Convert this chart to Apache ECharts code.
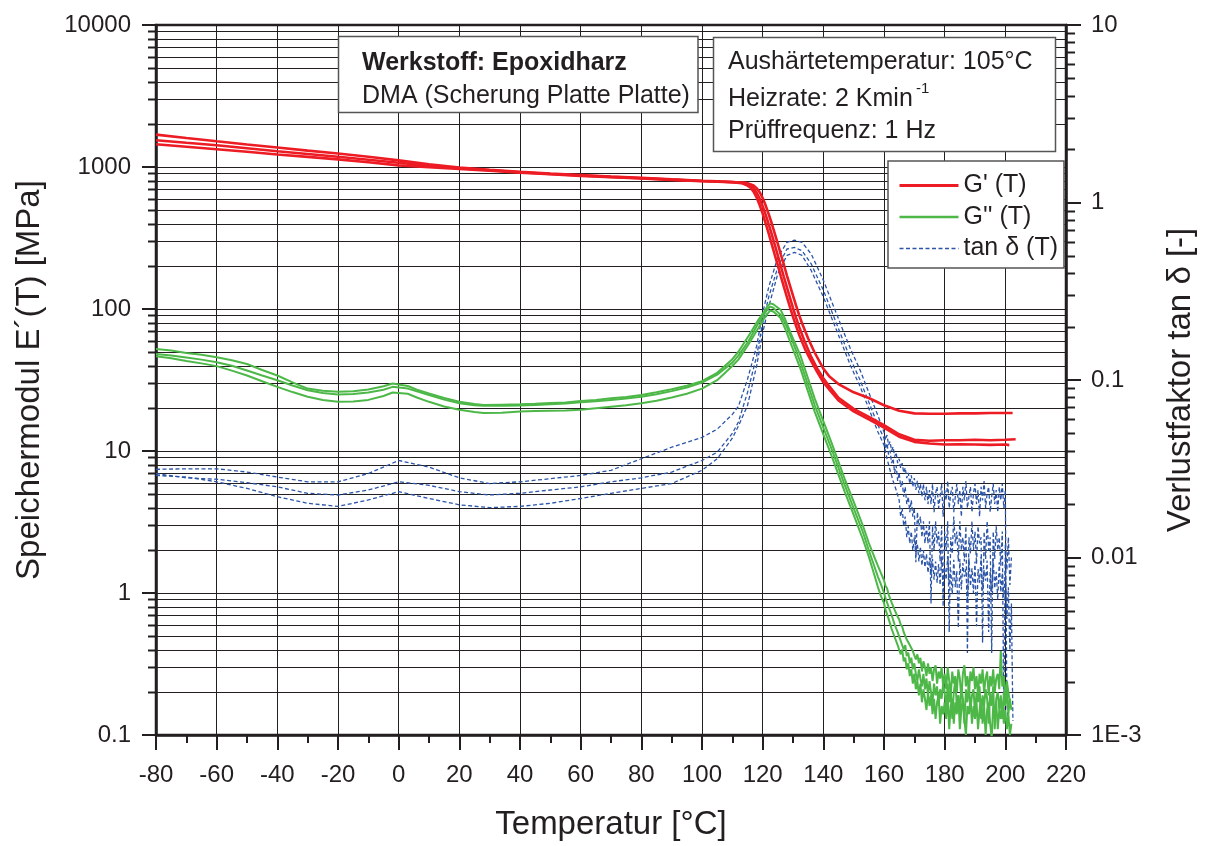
<!DOCTYPE html>
<html>
<head>
<meta charset="utf-8">
<script src="https://cdn.jsdelivr.net/npm/echarts@6/dist/echarts.min.js"></script>
<style>html,body{margin:0;padding:0;background:#fff}#c{width:1205px;height:846px}</style>
</head>
<body>
<div id="c"></div>
<script>
// ---------- tick labels ----------
const xTicks = [-80,-60,-40,-20,0,20,40,60,80,100,120,140,160,180,200,220];
const leftTickLabels = ['0.1','1','10','100','1000','10000'];
const rightTickLabels = ['1E-3','0.01','0.1','1','10'];
const leftMinorTicks = [0.2,0.3,0.4,0.5,0.6,0.7,0.8,0.9,2,3,4,5,6,7,8,9,20,30,40,50,60,70,80,90,200,300,400,500,600,700,800,900,2000,3000,4000,5000,6000,7000,8000,9000];
const rightMinorTicks = [0.002,0.003,0.004,0.005,0.006,0.007,0.008,0.009,0.02,0.03,0.04,0.05,0.06,0.07,0.08,0.09,0.2,0.3,0.4,0.5,0.6,0.7,0.8,0.9,2,3,4,5,6,7,8,9];
const seriesNames = ["G' (T)", "G'' (T)", "tan δ (T)"];

// ---------- G' (storage modulus) [MPa], three runs ----------
const gStorage1 = [[-80,1690],[-70,1600],[-60,1517],[-50,1440],[-40,1371],[-30,1305],[-20,1245],[-10,1180],[0,1114],[10,1045],[20,990],[30,955],[40,925],[50,900],[60,878],[70,857],[80,838],[90,818],[100,800],[105,792],[110,782],[113,770],[115,740],[116,715],[117,670],[118,610],[119,540],[120,470],[121,400],[122,340],[123,285],[124,240],[125,203],[126,170],[127,143],[128,121],[129,103],[130,88],[131,76],[132,66],[134,52],[136,43],[138,36],[140,30.5],[142,27],[145,22.7],[150,19.0],[155,16.7],[160,14.6],[165,12.6],[170,11.6],[175,11.3],[180,11.1],[185,11.15],[190,11.1],[195,11.05],[200,11.1],[201.3,11.0]];
const gStorage2 = [[-80,1542],[-70,1480],[-60,1423],[-50,1355],[-40,1291],[-30,1235],[-20,1180],[-10,1125],[0,1070],[10,1022],[20,980],[30,948],[40,918],[50,893],[60,872],[70,852],[80,834],[90,815],[100,797],[105,790],[110,785],[114,775],[116,745],[117,710],[118,660],[119,600],[120,530],[121,460],[122,395],[123,335],[124,283],[125,238],[126,200],[127,168],[128,142],[129,120],[130,102],[131,87],[132,75],[134,58],[136,46],[138,38],[140,32.5],[142,28.5],[145,23.7],[150,19.8],[155,17.4],[160,15.2],[165,13.1],[170,12.0],[175,11.8],[180,11.9],[185,11.9],[190,12.0],[195,11.9],[200,12.0],[203.4,12.1]];
const gStorage3 = [[-80,1446],[-70,1390],[-60,1334],[-50,1280],[-40,1225],[-30,1178],[-20,1132],[-10,1080],[0,1027],[10,998],[20,970],[30,940],[40,912],[50,888],[60,866],[70,847],[80,830],[90,812],[100,794],[105,788],[110,780],[115,770],[117,740],[118,710],[119,665],[120,605],[121,535],[122,465],[123,400],[124,340],[125,287],[126,242],[127,205],[128,172],[129,146],[130,124],[131,106],[132,91],[133,79],[135,62],[137,50],[140,38],[142,33.5],[145,29.6],[150,25.9],[155,23.6],[160,21.0],[165,19.2],[170,18.4],[175,18.3],[180,18.3],[185,18.4],[190,18.4],[195,18.5],[200,18.5],[202.4,18.5]];

// ---------- G'' (loss modulus) [MPa], three runs ----------
const gLoss1 = [[-80,52.2],[-75,51.0],[-70,49.0],[-65,47.6],[-60,45.7],[-55,43.6],[-50,41.0],[-45,37.2],[-40,34.0],[-35,30.4],[-30,27.5],[-25,26.6],[-20,26.1],[-15,26.3],[-10,27.1],[-5,28.6],[-2,29.9],[3,28.7],[6,27.0],[10,25.4],[15,23.6],[20,22.2],[25,21.4],[28,21.1],[34,21.2],[40,21.3],[45,21.5],[50,21.8],[55,22.0],[60,22.5],[65,22.9],[70,23.5],[75,24.0],[80,24.8],[85,25.9],[90,27.2],[95,28.8],[100,31.0],[105,35.5],[110,44.3],[112,50],[115.3,64.3],[118.6,83.9],[120.5,96],[121.5,104],[122.5,109.6],[123.5,108],[124.5,104],[125.9,98.7],[127.5,84],[129.2,67.8],[132.5,46.7],[137.2,23.3],[142.6,11.6],[147,6.4],[150,4.4],[153,3.0],[155,2.25],[157,1.75],[158,1.55],[159,1.38],[160,1.23],[160.5,1.12],[161,1.08],[161.5,0.98],[162,0.95],[162.5,0.86],[163,0.84],[163.5,0.76],[164,0.74],[164.5,0.68],[165,0.65],[165.5,0.6],[166,0.58],[166.5,0.53],[167,0.52],[167.5,0.47],[168,0.47],[168.5,0.43],[169,0.43],[169.5,0.39],[170,0.4],[170.5,0.34],[171,0.37],[171.5,0.32],[172,0.35],[172.5,0.28],[173,0.33],[173.5,0.3],[174,0.26],[174.5,0.32],[175,0.27],[175.5,0.3],[176,0.24],[176.5,0.29],[177,0.31],[177.5,0.23],[178,0.28],[178.5,0.25],[179,0.3],[179.5,0.22],[180,0.27],[180.5,0.21],[181,0.3],[181.5,0.24],[182,0.19],[182.5,0.28],[183,0.23],[183.5,0.26],[184,0.2],[184.5,0.29],[185,0.25],[185.5,0.18],[186,0.27],[186.5,0.31],[187,0.22],[187.5,0.26],[188,0.2],[188.5,0.28],[189,0.24],[189.5,0.3],[190,0.21],[190.5,0.26],[191,0.19],[191.5,0.27],[192,0.23],[192.5,0.29],[193,0.2],[193.5,0.25],[194,0.28],[194.5,0.19],[195,0.26],[195.5,0.22],[196,0.29],[196.5,0.2],[197,0.25],[197.5,0.27],[198,0.21],[198.5,0.39],[199,0.22],[199.5,0.26],[200,0.18],[200.5,0.24],[201,0.2],[201.5,0.17]];
const gLoss2 = [[-80,48.2],[-75,47.0],[-70,45.5],[-65,44.0],[-60,42.2],[-55,39.8],[-50,36.9],[-45,34.0],[-40,31.5],[-35,28.9],[-30,26.8],[-25,25.6],[-20,25.0],[-15,25.2],[-10,25.8],[-5,27.0],[-2,28.3],[3,27.5],[6,26.3],[10,24.8],[15,23.0],[20,21.7],[25,21.0],[28,20.8],[34,20.8],[40,20.9],[45,21.1],[50,21.3],[55,21.6],[60,22.0],[65,22.4],[70,22.9],[75,23.4],[80,24.1],[85,25.1],[90,26.4],[95,28.0],[100,30.3],[105,34.5],[110,41.9],[112,47],[115.3,59.3],[118.6,79.6],[120.5,92],[121.5,99],[122.5,104],[123.5,102],[124.5,97],[125.9,91.0],[127.5,79],[129.2,64.3],[132.5,41.9],[137.2,20.9],[142.6,10.5],[147,5.8],[150,3.94],[153,2.7],[155,2.0],[157,1.5],[158,1.3],[159,1.15],[160,1.0],[160.5,0.92],[161,0.9],[161.5,0.8],[162,0.78],[162.5,0.7],[163,0.68],[163.5,0.6],[164,0.6],[164.5,0.53],[165,0.52],[165.5,0.46],[166,0.47],[166.5,0.4],[167,0.43],[167.5,0.36],[168,0.38],[168.5,0.32],[169,0.35],[169.5,0.29],[170,0.32],[170.5,0.27],[171,0.24],[171.5,0.29],[172,0.25],[172.5,0.22],[173,0.27],[173.5,0.21],[174,0.25],[174.5,0.19],[175,0.24],[175.5,0.2],[176,0.17],[176.5,0.23],[177,0.19],[177.5,0.22],[178,0.16],[178.5,0.21],[179,0.18],[179.5,0.23],[180,0.2],[180.5,0.15],[181,0.23],[181.5,0.17],[182,0.21],[182.5,0.13],[183,0.2],[183.5,0.24],[184,0.16],[184.5,0.19],[185,0.14],[185.5,0.22],[186,0.18],[186.5,0.12],[187,0.21],[187.5,0.17],[188,0.23],[188.5,0.15],[189,0.19],[189.5,0.21],[190,0.14],[190.5,0.2],[191,0.17],[191.5,0.22],[192,0.13],[192.5,0.19],[193,0.16],[193.5,0.21],[194,0.18],[194.5,0.12],[195,0.2],[195.5,0.16],[196,0.22],[196.5,0.11],[197,0.18],[197.5,0.2],[198,0.15],[198.5,0.19],[199,0.13],[199.5,0.2],[200,0.16],[200.5,0.21],[201,0.14],[201.5,0.18],[202,0.15]];
const gLoss3 = [[-80,46.4],[-75,45.0],[-70,43.0],[-65,41.4],[-60,39.6],[-55,36.8],[-50,34.0],[-45,31.0],[-40,28.3],[-35,26.0],[-30,24.1],[-25,22.9],[-20,22.2],[-15,22.3],[-10,22.9],[-5,24.4],[-2,25.8],[3,25.3],[6,23.8],[10,22.2],[15,20.6],[20,19.5],[25,18.8],[28,18.5],[34,18.6],[40,19.0],[45,19.1],[50,19.2],[55,19.3],[60,19.5],[65,20.0],[70,20.5],[75,21.0],[80,21.7],[85,22.6],[90,23.8],[95,25.3],[100,27.5],[105,31.5],[110,39.7],[112,44],[115.3,56.3],[118.6,73.5],[120.5,86],[121.5,92],[122.5,97.5],[123.5,96],[124.5,92],[125.9,86.3],[127.5,72],[129.2,57.8],[132.5,37.7],[137.2,18.8],[142.6,9.4],[147,5.2],[150,3.55],[153,2.4],[155,1.8],[157,1.3],[158,1.1],[159,0.95],[160,0.85],[160.5,0.76],[161,0.74],[161.5,0.66],[162,0.64],[162.5,0.56],[163,0.56],[163.5,0.49],[164,0.5],[164.5,0.43],[165,0.44],[165.5,0.37],[166,0.4],[166.5,0.33],[167,0.35],[167.5,0.29],[168,0.32],[168.5,0.26],[169,0.29],[169.5,0.23],[170,0.27],[170.5,0.21],[171,0.24],[171.5,0.19],[172,0.23],[172.5,0.17],[173,0.21],[173.5,0.18],[174,0.15],[174.5,0.2],[175,0.16],[175.5,0.19],[176,0.14],[176.5,0.18],[177,0.13],[177.5,0.17],[178,0.19],[178.5,0.12],[179,0.16],[179.5,0.14],[180,0.17],[180.5,0.13],[181,0.19],[181.5,0.11],[182,0.16],[182.5,0.18],[183,0.12],[183.5,0.17],[184,0.14],[184.5,0.19],[185,0.11],[185.5,0.15],[186,0.18],[186.5,0.13],[187,0.1],[187.5,0.16],[188,0.14],[188.5,0.18],[189,0.12],[189.5,0.16],[190,0.13],[190.5,0.17],[191,0.11],[191.5,0.15],[192,0.18],[192.5,0.12],[193,0.16],[193.5,0.1],[194,0.15],[194.5,0.17],[195,0.12],[195.5,0.095],[196,0.16],[196.5,0.13],[197,0.17],[197.5,0.11],[198,0.15],[198.5,0.13],[199,0.17],[199.5,0.12],[200,0.15],[200.5,0.11],[201,0.14],[201.5,0.1],[202,0.12]];

// ---------- tan delta [-], three runs ----------
const tanDelta1 = [[-80,0.0314],[-70,0.0316],[-60,0.0316],[-50,0.0303],[-40,0.0284],[-30,0.0267],[-20,0.0267],[-10,0.0297],[0,0.0352],[10,0.0323],[20,0.0281],[30,0.0261],[40,0.0267],[50,0.0278],[60,0.029],[70,0.031],[80,0.036],[90,0.0418],[100,0.0475],[105,0.0528],[110,0.064],[112,0.071],[115,0.101],[118,0.155],[120,0.238],[122,0.334],[125,0.492],[128,0.596],[130.5,0.614],[133,0.596],[136,0.513],[138,0.433],[140,0.365],[143,0.27],[146,0.2],[149,0.149],[152,0.115],[155,0.085],[158,0.063],[160,0.051],[160.5,0.046],[161,0.049],[161.5,0.043],[162,0.045],[162.5,0.04],[163,0.042],[163.5,0.037],[164,0.039],[164.5,0.034],[165,0.036],[165.5,0.032],[166,0.034],[166.5,0.03],[167,0.032],[167.5,0.028],[168,0.03],[168.5,0.026],[169,0.029],[169.5,0.025],[170,0.028],[170.5,0.024],[171,0.027],[171.5,0.023],[172,0.026],[172.5,0.022],[173,0.026],[173.5,0.021],[174,0.025],[174.5,0.02],[175,0.024],[175.5,0.02],[176,0.026],[176.5,0.018],[177,0.023],[177.5,0.025],[178,0.019],[178.5,0.022],[179,0.026],[179.5,0.017],[180,0.024],[180.5,0.021],[181,0.027],[181.5,0.019],[182,0.023],[182.5,0.025],[183,0.018],[183.5,0.022],[184,0.026],[184.5,0.02],[185,0.024],[185.5,0.017],[186,0.025],[186.5,0.021],[187,0.027],[187.5,0.019],[188,0.022],[188.5,0.025],[189,0.018],[189.5,0.023],[190,0.026],[190.5,0.02],[191,0.024],[191.5,0.017],[192,0.025],[192.5,0.021],[193,0.027],[193.5,0.019],[194,0.023],[194.5,0.025],[195,0.018],[195.5,0.022],[196,0.026],[196.5,0.02],[197,0.024],[197.5,0.018],[198,0.025],[198.5,0.021],[199,0.026],[199.5,0.019],[200,0.024],[200.5,0.0015],[201,0.0012]];
const tanDelta2 = [[-80,0.0297],[-70,0.0281],[-60,0.0276],[-50,0.0264],[-40,0.025],[-30,0.023],[-20,0.0225],[-10,0.024],[0,0.0267],[10,0.0255],[20,0.0235],[30,0.0225],[40,0.023],[50,0.024],[60,0.025],[70,0.0267],[80,0.0281],[90,0.0303],[100,0.0352],[105,0.0392],[110,0.05],[112,0.058],[115,0.085],[118,0.136],[120,0.209],[122,0.294],[125,0.433],[128,0.547],[130.5,0.558],[133,0.535],[136,0.451],[138,0.38],[140,0.321],[143,0.238],[146,0.176],[149,0.131],[152,0.101],[155,0.075],[158,0.0556],[160,0.047],[160.5,0.041],[161,0.044],[161.5,0.038],[162,0.04],[162.5,0.034],[163,0.036],[163.5,0.03],[164,0.033],[164.5,0.027],[165,0.03],[165.5,0.025],[166,0.027],[166.5,0.022],[167,0.025],[167.5,0.02],[168,0.022],[168.5,0.018],[169,0.021],[169.5,0.017],[170,0.019],[170.5,0.0094],[171,0.018],[171.5,0.015],[172,0.017],[172.5,0.013],[173,0.016],[173.5,0.012],[174,0.015],[174.5,0.012],[175,0.016],[175.5,0.0055],[176,0.015],[176.5,0.011],[177,0.016],[177.5,0.012],[178,0.014],[178.5,0.0095],[179,0.015],[179.5,0.0053],[180,0.014],[180.5,0.011],[181,0.016],[181.5,0.0038],[182,0.013],[182.5,0.0105],[183,0.017],[183.5,0.012],[184,0.014],[184.5,0.0095],[185,0.016],[185.5,0.011],[186,0.013],[186.5,0.0095],[187,0.015],[187.5,0.0029],[188,0.013],[188.5,0.0105],[189,0.016],[189.5,0.011],[190,0.014],[190.5,0.0092],[191,0.015],[191.5,0.012],[192,0.013],[192.5,0.0033],[193,0.014],[193.5,0.0098],[194,0.016],[194.5,0.011],[195,0.013],[195.5,0.0029],[196,0.014],[196.5,0.0098],[197,0.015],[197.5,0.011],[198,0.013],[198.5,0.009],[199,0.014],[199.5,0.0012],[200,0.012],[200.5,0.0085],[201,0.013],[201.5,0.007],[202,0.01]];
const tanDelta3 = [[-80,0.029],[-70,0.0284],[-60,0.0267],[-50,0.0245],[-40,0.022],[-30,0.0202],[-20,0.0194],[-10,0.0211],[0,0.0235],[10,0.0215],[20,0.0198],[30,0.0191],[40,0.0194],[50,0.0202],[60,0.0215],[70,0.023],[80,0.0245],[90,0.0261],[100,0.031],[105,0.036],[110,0.047],[112,0.055],[115,0.0718],[118,0.12],[120,0.184],[122,0.259],[125,0.397],[128,0.503],[130.5,0.524],[133,0.503],[136,0.414],[138,0.349],[140,0.294],[143,0.218],[146,0.162],[149,0.12],[152,0.093],[155,0.069],[158,0.051],[160,0.043],[161,0.036],[162,0.031],[163,0.027],[164,0.024],[165,0.021],[165.5,0.017],[166,0.019],[166.5,0.015],[167,0.017],[167.5,0.013],[168,0.015],[168.5,0.012],[169,0.014],[169.5,0.011],[170,0.013],[170.5,0.0105],[171,0.012],[171.5,0.0095],[172,0.0115],[172.5,0.009],[173,0.011],[173.5,0.0088],[174,0.0105],[174.5,0.0082],[175,0.01],[175.5,0.008],[176,0.0098],[176.5,0.0075],[177,0.0095],[177.5,0.0072],[178,0.0092],[178.5,0.007],[179,0.0101],[179.5,0.0068],[180,0.0088],[180.5,0.0075],[181,0.0102],[181.5,0.007],[182,0.0085],[182.5,0.0062],[183,0.0097],[183.5,0.0068],[184,0.0084],[184.5,0.004],[185,0.0098],[185.5,0.0066],[186,0.0093],[186.5,0.0078],[187,0.0086],[187.5,0.0058],[188,0.0099],[188.5,0.0069],[189,0.0087],[189.5,0.0063],[190,0.0095],[190.5,0.0041],[191,0.0086],[191.5,0.0072],[192,0.0101],[192.5,0.0065],[193,0.0085],[193.5,0.0074],[194,0.0096],[194.5,0.0038],[195,0.0084],[195.5,0.0064],[196,0.0099],[196.5,0.0067],[197,0.0083],[197.5,0.0058],[198,0.0094],[198.5,0.0064],[199,0.0082],[199.5,0.006],[200,0.0085],[200.5,0.0045],[201,0.0068],[201.5,0.003],[202,0.0055],[202.5,0.0012]];

// ---------- rendering ----------
const FONT = "'Liberation Sans', Arial, Helvetica, sans-serif";
const INK = '#231f20';
const RED = '#ed1c24', GREEN = '#4db848', BLUE = '#2c55a8';

const chart = echarts.init(document.getElementById('c'), null, {renderer: 'canvas'});

function leftMinorItem(params, api) {
  const cs = params.coordSys;
  const y = Math.round(api.coord([-80, api.value(1)])[1]) + 0.5;
  return {type: 'group', children: [
    {type: 'line', shape: {x1: cs.x, y1: y, x2: cs.x + cs.width, y2: y}, style: {stroke: INK, lineWidth: 1}},
    {type: 'line', shape: {x1: cs.x - 8, y1: y, x2: cs.x, y2: y}, style: {stroke: INK, lineWidth: 2}}
  ]};
}
function rightMinorItem(params, api) {
  const cs = params.coordSys;
  const y = Math.round(api.coord([-80, api.value(1)])[1]) + 0.5;
  const xr = cs.x + cs.width;
  return {type: 'line', shape: {x1: xr, y1: y, x2: xr + 9, y2: y}, style: {stroke: INK, lineWidth: 2}};
}

function lineSeries(name, data, color, width, yIdx, dashed) {
  return {
    name: name, type: 'line', data: data, yAxisIndex: yIdx,
    symbol: 'none', showSymbol: false, clip: true, z: 3,
    lineStyle: {color: color, width: width, type: dashed ? [4, 2.5] : 'solid'},
    itemStyle: {color: color}
  };
}

const option = {
  animation: false,
  backgroundColor: '#ffffff',
  textStyle: {fontFamily: FONT, color: INK},
  grid: {left: 156, right: 137, top: 25, bottom: 103, show: true, borderColor: INK, borderWidth: 2.5, backgroundColor: 'transparent'},
  legend: {
    data: [
      {name: seriesNames[0], lineStyle: {width: 3}},
      {name: seriesNames[1], lineStyle: {width: 2.5}},
      {name: seriesNames[2], lineStyle: {width: 1.5}}
    ],
    orient: 'vertical', left: 888, top: 161,
    itemWidth: 59, itemHeight: 25, itemGap: 6.5, padding: [12, 6, 7, 10],
    borderColor: '#555', borderWidth: 1.5, backgroundColor: '#fff', selectedMode: false,
    itemStyle: {opacity: 0},
    textStyle: {fontSize: 25, color: INK, fontFamily: FONT}, z: 20
  },
  xAxis: {
    type: 'value', min: xTicks[0], max: xTicks[xTicks.length - 1], interval: 20,
    axisLine: {show: true, onZero: false, lineStyle: {color: INK, width: 2.5}},
    axisTick: {show: true, inside: false, length: 15, lineStyle: {color: INK, width: 2}},
    minorTick: {show: true, splitNumber: 2, length: 8, lineStyle: {color: INK, width: 2}},
    splitLine: {show: true, lineStyle: {color: INK, width: 1}},
    axisLabel: {fontSize: 24, color: INK, margin: 28, fontFamily: FONT},
    name: 'Temperatur [°C]', nameLocation: 'middle', nameGap: 73,
    nameTextStyle: {fontSize: 33, color: INK, fontFamily: FONT}
  },
  yAxis: [{
    type: 'log', logBase: 10, min: 0.1, max: 10000, position: 'left',
    axisLine: {show: true, onZero: false, lineStyle: {color: INK, width: 2.5}},
    axisTick: {show: true, inside: false, length: 14, lineStyle: {color: INK, width: 2}},
    minorTick: {show: false},
    splitLine: {show: true, lineStyle: {color: INK, width: 1}},
    axisLabel: {fontSize: 24, color: INK, margin: 25, fontFamily: FONT, padding: [5, 0, 0, 0],
      formatter: v => leftTickLabels[Math.round(Math.log10(v)) + 1]},
    name: 'Speichermodul E´(T) [MPa]', nameLocation: 'middle', nameGap: 110, nameRotate: 90,
    nameTextStyle: {fontSize: 33, color: INK, fontFamily: FONT}
  }, {
    type: 'log', logBase: 10, min: 0.001, max: 10, position: 'right',
    axisLine: {show: true, onZero: false, lineStyle: {color: INK, width: 2.5}},
    axisTick: {show: true, inside: false, length: 15, lineStyle: {color: INK, width: 2}},
    minorTick: {show: false},
    splitLine: {show: false},
    axisLabel: {fontSize: 24, color: INK, margin: 25, fontFamily: FONT, padding: [5, 0, 0, 0],
      formatter: v => rightTickLabels[Math.round(Math.log10(v)) + 3]},
    name: 'Verlustfaktor tan δ [-]', nameLocation: 'middle', nameGap: 98, nameRotate: 90,
    nameTextStyle: {fontSize: 33, color: INK, fontFamily: FONT}
  }],
  graphic: [
    {type: 'rect', z: 50, shape: {x: 338.5, y: 36.5, width: 359.5, height: 76}, style: {fill: '#fff', stroke: '#555', lineWidth: 1.5}},
    {type: 'text', z: 51, x: 362, y: 63, style: {text: 'Werkstoff: Epoxidharz', font: "bold 25px 'Liberation Sans', Arial, sans-serif", fill: INK, textVerticalAlign: 'middle'}},
    {type: 'text', z: 51, x: 362, y: 96, style: {text: 'DMA (Scherung Platte Platte)', font: "25px 'Liberation Sans', Arial, sans-serif", fill: INK, textVerticalAlign: 'middle'}},
    {type: 'rect', z: 50, shape: {x: 713.5, y: 37.5, width: 342, height: 114}, style: {fill: '#fff', stroke: '#555', lineWidth: 1.5}},
    {type: 'text', z: 51, x: 728, y: 62, style: {text: 'Aushärtetemperatur: 105°C', font: "25px 'Liberation Sans', Arial, sans-serif", fill: INK, textVerticalAlign: 'middle'}},
    {type: 'text', z: 51, x: 728, y: 99, style: {text: 'Heizrate: 2 Kmin', font: "25px 'Liberation Sans', Arial, sans-serif", fill: INK, textVerticalAlign: 'middle'}},
    {type: 'text', z: 51, x: 916, y: 89, style: {text: '-1', font: "15px 'Liberation Sans', Arial, sans-serif", fill: INK, textVerticalAlign: 'middle'}},
    {type: 'text', z: 51, x: 728, y: 131, style: {text: 'Prüffrequenz: 1 Hz', font: "25px 'Liberation Sans', Arial, sans-serif", fill: INK, textVerticalAlign: 'middle'}}
  ],
  series: [
    {type: 'custom', name: 'leftMinor', yAxisIndex: 0, silent: true, clip: false, z: 1,
      renderItem: leftMinorItem, data: leftMinorTicks.map(v => [-80, v]), tooltip: {show: false}},
    {type: 'custom', name: 'rightMinor', yAxisIndex: 1, silent: true, clip: false, z: 1,
      renderItem: rightMinorItem, data: rightMinorTicks.map(v => [-80, v]), tooltip: {show: false}},
    lineSeries(seriesNames[2], tanDelta1, BLUE, 1.3, 1, true),
    lineSeries(seriesNames[2], tanDelta2, BLUE, 1.3, 1, true),
    lineSeries(seriesNames[2], tanDelta3, BLUE, 1.3, 1, true),
    lineSeries(seriesNames[1], gLoss1, GREEN, 2, 0, false),
    lineSeries(seriesNames[1], gLoss2, GREEN, 2, 0, false),
    lineSeries(seriesNames[1], gLoss3, GREEN, 2, 0, false),
    lineSeries(seriesNames[0], gStorage1, RED, 2.6, 0, false),
    lineSeries(seriesNames[0], gStorage2, RED, 2.6, 0, false),
    lineSeries(seriesNames[0], gStorage3, RED, 2.6, 0, false)
  ]
};
chart.setOption(option);
</script>
</body>
</html>
